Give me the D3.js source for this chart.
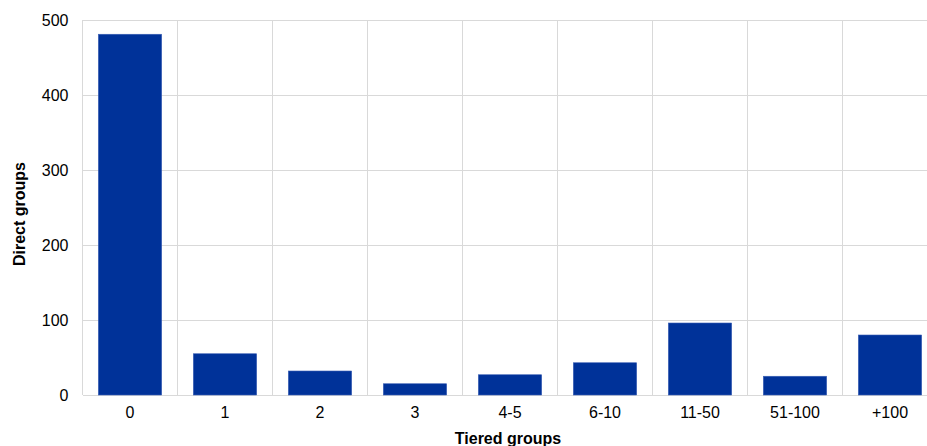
<!DOCTYPE html>
<meta charset="utf-8">
<head>
<style>
body { margin: 0; background: #fff; }
svg text { font-family: "Liberation Sans", Arial, sans-serif; fill: #000; }
.grid line { stroke: #d9d9d9; stroke-width: 1px; shape-rendering: crispEdges; }
.bar { fill: #003299; stroke: #3a5fb5; stroke-width: 0.6px; }
</style>
</head>
<body>
<script src="https://cdn.jsdelivr.net/npm/d3@7"></script>
<div id="chart"></div>
<script>
  var categories = ["0", "1", "2", "3", "4-5", "6-10", "11-50", "51-100", "+100"];
  var directGroups = [481, 55, 32, 15, 27, 43, 96, 25, 80];
  var yTicks = [0, 100, 200, 300, 400, 500];

  var width = 927,
      height = 446;
  var plotLeft = 82.5, plotTop = 20, plotBottom = 395;
  var step = 95;

  var svg = d3.select('#chart')
      .append('svg')
      .attr('width', width)
      .attr('height', height)
      .style('display', 'block');

  var x = d3.scaleBand()
      .domain(categories)
      .range([plotLeft, plotLeft + step * categories.length])
      .paddingInner(1 / 3)
      .paddingOuter(1 / 6);

  var y = d3.scaleLinear()
      .domain([0, 500])
      .range([plotBottom, plotTop]);

  var grid = svg.append('g').attr('class', 'grid');

  // horizontal gridlines
  grid.selectAll('.h')
      .data(yTicks)
      .enter()
      .append('line')
      .attr('x1', plotLeft)
      .attr('x2', plotLeft + step * categories.length)
      .attr('y1', function (d) { return Math.round(y(d)) + 0.5; })
      .attr('y2', function (d) { return Math.round(y(d)) + 0.5; });

  // vertical gridlines at category boundaries
  grid.selectAll('.v')
      .data(d3.range(categories.length + 1))
      .enter()
      .append('line')
      .attr('x1', function (i) { return plotLeft + i * x.step(); })
      .attr('x2', function (i) { return plotLeft + i * x.step(); })
      .attr('y1', plotTop)
      .attr('y2', plotBottom);

  svg.selectAll('.bar')
      .data(directGroups)
      .enter()
      .append('rect')
      .attr('class', 'bar')
      .attr('x', function (d, i) { return x(categories[i]); })
      .attr('width', x.bandwidth())
      .attr('y', function (d) { return y(d); })
      .attr('height', function (d) { return y(0) - y(d); });

  var yAxis = svg.append('g')
      .attr('transform', 'translate(' + plotLeft + ',0)')
      .call(d3.axisLeft(y).tickValues(yTicks).tickSize(0).tickPadding(14));
  yAxis.select('.domain').remove();
  yAxis.selectAll('text').style('font-size', '16px').attr('dy', '0.35em');

  var xAxis = svg.append('g')
      .attr('transform', 'translate(0,' + plotBottom + ')')
      .call(d3.axisBottom(x).tickSize(0).tickPadding(12));
  xAxis.select('.domain').remove();
  xAxis.selectAll('text').style('font-size', '16px');

  svg.append('text')
      .attr('x', 508)
      .attr('y', 444)
      .attr('text-anchor', 'middle')
      .style('font-size', '16px')
      .style('font-weight', 'bold')
      .text('Tiered groups');

  svg.append('text')
      .attr('transform', 'translate(25,214) rotate(-90)')
      .attr('text-anchor', 'middle')
      .style('font-size', '16px')
      .style('font-weight', 'bold')
      .text('Direct groups');
</script>
</body>
